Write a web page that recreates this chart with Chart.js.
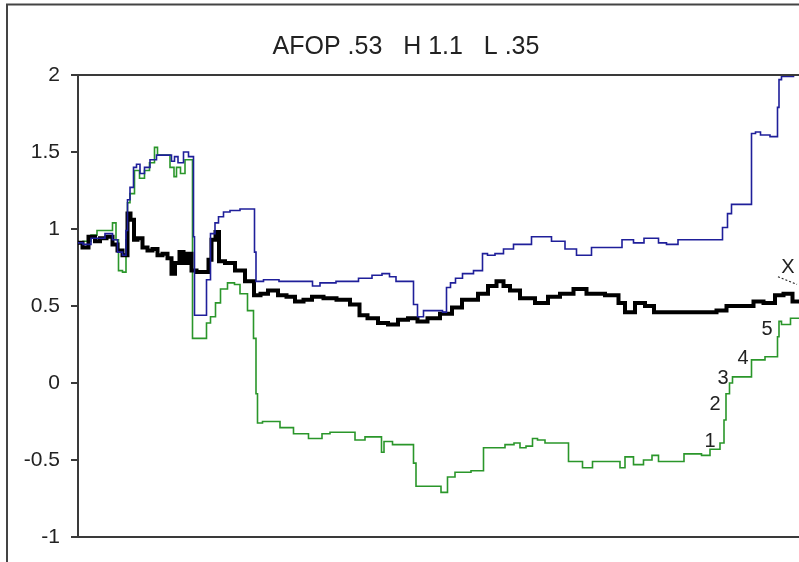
<!DOCTYPE html>
<html>
<head>
<meta charset="utf-8">
<script src="https://cdn.jsdelivr.net/npm/chart.js@4.4.1/dist/chart.umd.min.js"></script>
<style>
  html, body { margin: 0; padding: 0; background: #fff; overflow: hidden; width: 799px; height: 562px; }
  #wrap { position: absolute; left: 0; top: 0; width: 810px; height: 562px; }
</style>
</head>
<body>
<div id="wrap"><canvas id="c" width="810" height="562"></canvas></div>
<script>
// Title and value axis
const chartTitle = 'AFOP .53   H 1.1   L .35';
const yTicks = [-1, -0.5, 0, 0.5, 1, 1.5, 2];
const obsMax = 726; // last observation index

// Upper band (blue)
const highT = [0,10,16,22,32,37,42,47,49,50,54,57,60,64,69,75,82,92,95,98,102,109,112,115,116,117,127,130,135,139,142,149,155,169,176,177,179,192,210,229,240,244,272,289,299,309,314,322,334,337,342,349,362,367,370,375,380,389,402,407,412,422,429,442,452,455,465,482,492,505,522,539,549,562,570,579,582,595,605,642,647,652,655,672,675,680,685,699,700,702,705,726];
const highV = [0.91,0.90,0.94,0.94,0.97,0.93,0.85,0.83,0.99,1.19,1.27,1.40,1.42,1.36,1.40,1.45,1.48,1.48,1.44,1.47,1.43,1.50,1.47,1.47,0.95,0.44,0.44,0.67,0.97,1.04,1.08,1.11,1.12,1.13,1.13,0.85,0.66,0.67,0.66,0.66,0.63,0.65,0.66,0.68,0.70,0.71,0.69,0.66,0.66,0.51,0.43,0.47,0.47,0.46,0.62,0.65,0.68,0.71,0.73,0.84,0.83,0.84,0.87,0.90,0.90,0.95,0.95,0.92,0.87,0.83,0.88,0.88,0.93,0.91,0.94,0.94,0.91,0.90,0.93,0.93,1.01,1.10,1.16,1.16,1.62,1.63,1.61,1.60,1.79,1.97,1.99,2.00];

// AFOP (black)
const afopT = [0,9,12,15,19,25,32,37,42,47,49,50,55,57,62,67,72,77,82,87,92,95,99,104,107,112,115,122,129,132,135,140,142,152,162,172,180,185,195,205,212,222,229,239,252,265,279,284,295,305,315,325,335,344,355,369,379,389,395,405,415,422,429,435,449,465,475,489,502,515,539,542,552,562,572,580,635,642,655,672,679,692,702,709,720,726];
const afopV = [0.91,0.88,0.95,0.95,0.92,0.94,0.95,0.90,0.86,0.83,0.83,1.10,1.06,0.93,0.94,0.88,0.86,0.87,0.83,0.84,0.81,0.71,0.78,0.85,0.78,0.84,0.73,0.72,0.72,0.80,0.93,0.98,0.79,0.78,0.73,0.66,0.57,0.58,0.60,0.57,0.56,0.53,0.54,0.56,0.55,0.54,0.51,0.44,0.42,0.39,0.38,0.41,0.42,0.40,0.42,0.45,0.49,0.54,0.54,0.58,0.63,0.66,0.63,0.60,0.55,0.52,0.56,0.58,0.61,0.58,0.57,0.52,0.46,0.52,0.50,0.46,0.46,0.47,0.50,0.50,0.53,0.52,0.57,0.58,0.53,0.50];

// Lower band (green)
const lowT = [0,10,16,22,32,37,39,42,47,49,50,54,59,64,69,74,79,80,89,95,97,100,105,109,114,115,127,130,135,140,145,154,159,165,174,177,179,180,189,195,209,222,239,249,255,275,279,295,302,305,307,322,335,336,340,359,367,372,382,404,407,422,432,440,444,452,457,462,472,489,492,502,507,522,539,545,549,562,569,579,582,605,607,622,625,639,645,647,649,654,655,672,675,699,700,702,705,720,726];
const lowV = [0.91,0.92,0.96,0.99,0.99,1.04,0.93,0.73,0.72,0.93,1.17,1.23,1.38,1.33,1.38,1.43,1.53,1.48,1.48,1.40,1.34,1.40,1.36,1.45,1.45,0.29,0.29,0.39,0.43,0.52,0.61,0.65,0.64,0.58,0.47,0.29,-0.07,-0.26,-0.25,-0.25,-0.29,-0.33,-0.36,-0.33,-0.32,-0.32,-0.37,-0.35,-0.35,-0.45,-0.38,-0.40,-0.40,-0.52,-0.67,-0.67,-0.71,-0.61,-0.58,-0.57,-0.42,-0.42,-0.40,-0.39,-0.42,-0.41,-0.36,-0.37,-0.39,-0.39,-0.51,-0.51,-0.55,-0.51,-0.51,-0.55,-0.48,-0.53,-0.50,-0.47,-0.51,-0.51,-0.46,-0.46,-0.47,-0.43,-0.39,-0.24,-0.07,0.00,0.04,0.04,0.15,0.17,0.30,0.40,0.38,0.42,0.44];

// Point markers: text, observation index, value
const markText = ['1', '2', '3', '4', '5', 'X'];
const markT = [632, 637, 645, 665, 689, 710];
const markV = [-0.38, -0.14, 0.03, 0.16, 0.35, 0.75];
// Leader from the X marker down to the AFOP line
const leaderT = [700, 719];
const leaderV = [0.69, 0.64];

const FONT = "'Liberation Sans', Arial, sans-serif";
const INK = '#222';
const FRAME = '#3a3a3a';

const toPoints = (t, v) => t.map((x, i) => ({ x: x, y: v[i] }));

const framePlugin = {
  id: 'frame',
  beforeDraw(chart) {
    const ctx = chart.ctx;
    ctx.save();
    ctx.fillStyle = '#fff';
    ctx.fillRect(0, 0, chart.width, chart.height);
    ctx.strokeStyle = '#444';
    ctx.lineWidth = 2;
    ctx.strokeRect(7, 4.5, chart.width + 20, chart.height + 20);
    ctx.restore();
  },
  afterDraw(chart) {
    const { ctx, chartArea: a, scales } = chart;
    ctx.save();
    ctx.strokeStyle = FRAME;
    ctx.lineWidth = 2;
    ctx.beginPath();
    ctx.moveTo(a.left - 1, a.top);
    ctx.lineTo(a.right + 10, a.top);
    ctx.moveTo(a.left - 1, a.bottom);
    ctx.lineTo(a.right + 10, a.bottom);
    ctx.stroke();

    // marker labels
    ctx.fillStyle = INK;
    ctx.font = '20px ' + FONT;
    ctx.textAlign = 'center';
    ctx.textBaseline = 'middle';
    markText.forEach((s, i) => {
      ctx.fillText(s, scales.x.getPixelForValue(markT[i]), scales.y.getPixelForValue(markV[i]));
    });

    // dashed leader under X
    ctx.strokeStyle = '#222';
    ctx.lineWidth = 1.3;
    ctx.setLineDash([2, 2]);
    ctx.beginPath();
    ctx.moveTo(scales.x.getPixelForValue(leaderT[0]), scales.y.getPixelForValue(leaderV[0]));
    ctx.lineTo(scales.x.getPixelForValue(leaderT[1]), scales.y.getPixelForValue(leaderV[1]));
    ctx.stroke();
    ctx.restore();
  }
};

new Chart(document.getElementById('c'), {
  type: 'line',
  data: {
    datasets: [
      { label: 'H', data: toPoints(highT, highV), borderColor: '#1f1f9a', borderWidth: 1.6 },
      { label: 'AFOP', data: toPoints(afopT, afopV), borderColor: '#000', borderWidth: 4 },
      { label: 'L', data: toPoints(lowT, lowV), borderColor: '#2a962a', borderWidth: 1.6 }
    ]
  },
  options: {
    responsive: false,
    animation: false,
    events: [],
    elements: {
      point: { radius: 0 },
      line: { tension: 0, stepped: 'middle', borderJoinStyle: 'miter', borderCapStyle: 'butt' }
    },
    layout: { padding: { left: 8, right: 6, top: 0, bottom: 25 } },
    plugins: {
      legend: { display: false },
      tooltip: { enabled: false },
      title: {
        display: true,
        text: chartTitle,
        color: INK,
        font: { family: FONT, size: 25, weight: 'normal', lineHeight: 1.2 },
        padding: { top: 32, bottom: 13 }
      }
    },
    scales: {
      x: { type: 'linear', display: false, min: 0, max: obsMax },
      y: {
        min: -1,
        max: 2,
        afterBuildTicks(scale) { scale.ticks = yTicks.map(v => ({ value: v })); },
        afterFit(scale) { scale.width = 70; },
        ticks: {
          color: INK,
          padding: 11,
          font: { family: FONT, size: 21 },
          callback: v => String(v)
        },
        grid: { drawOnChartArea: false, drawTicks: true, tickLength: 7, color: FRAME, lineWidth: 2 },
        border: { display: true, color: FRAME, width: 2 }
      }
    }
  },
  plugins: [framePlugin]
});
</script>
</body>
</html>
